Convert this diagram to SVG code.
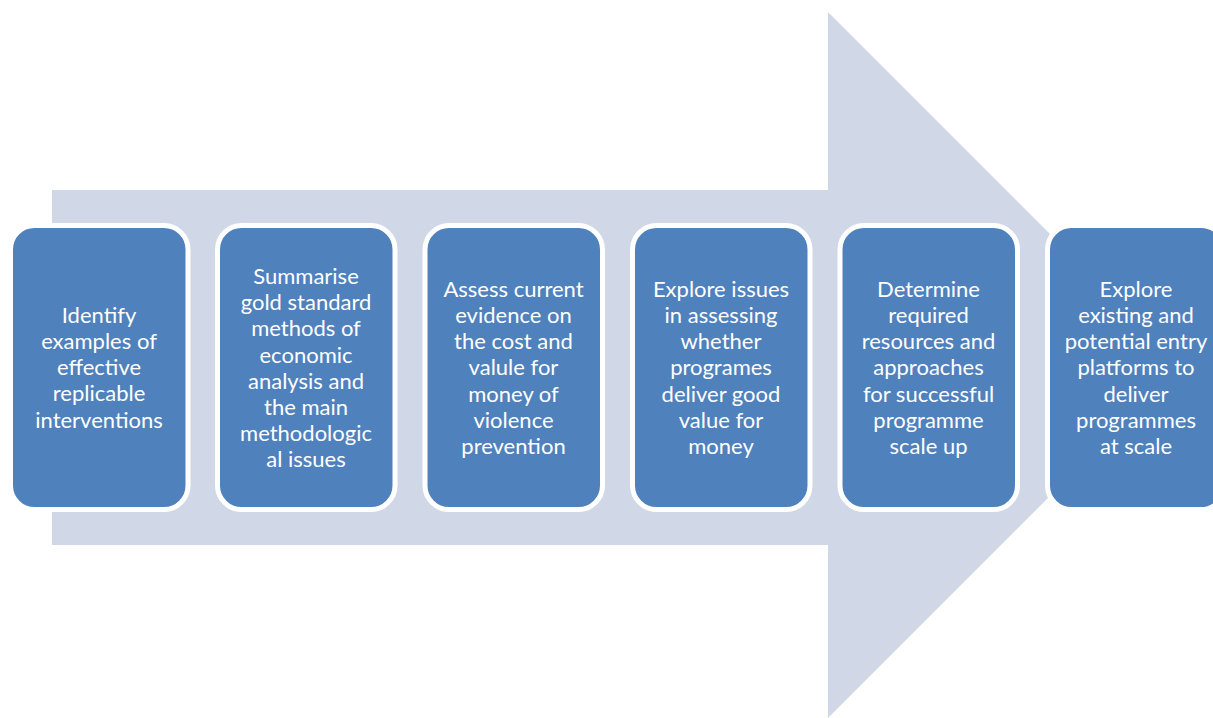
<svg xmlns="http://www.w3.org/2000/svg" width="1213" height="718" viewBox="0 0 1213 718">
<style>
.box{fill:#4F81BD;stroke:#FFFFFF;stroke-width:5}
.t{font-family:Lato,"Open Sans","Liberation Sans",sans-serif;font-size:22px;fill:#FFFFFF;text-anchor:middle}
</style>
<rect width="1213" height="718" fill="#FFFFFF"/>
<g id="arrow">
<polygon points="52,190 828,190 828,12 1181,365 828,718 828,545 52,545" fill="#D0D8E8"/>
</g>
<g id="connectors"></g>
<g id="node1">
<rect class="box" x="10.5" y="225.5" width="177.5" height="284" rx="24"/>
<text class="t" y="322.5"><tspan x="99" dy="0">Identify</tspan><tspan x="99" dy="26.3">examples of</tspan><tspan x="99" dy="26.3">effective</tspan><tspan x="99" dy="26.3">replicable</tspan><tspan x="99" dy="26.3">interventions</tspan></text>
</g>
<g id="node2">
<rect class="box" x="217.5" y="225.5" width="177.5" height="284" rx="24"/>
<text class="t" y="284"><tspan x="306" dy="0">Summarise</tspan><tspan x="306" dy="26.2">gold standard</tspan><tspan x="306" dy="26.2">methods of</tspan><tspan x="306" dy="26.2">economic</tspan><tspan x="306" dy="26.2">analysis and</tspan><tspan x="306" dy="26.2">the main</tspan><tspan x="306" dy="26.2">methodologic</tspan><tspan x="306" dy="26.2">al issues</tspan></text>
</g>
<g id="node3">
<rect class="box" x="425" y="225.5" width="177.5" height="284" rx="24"/>
<text class="t" y="296.5"><tspan x="513.5" dy="0">Assess current</tspan><tspan x="513.5" dy="26.3">evidence on</tspan><tspan x="513.5" dy="26.3">the cost and</tspan><tspan x="513.5" dy="26.3">valule for</tspan><tspan x="513.5" dy="26.3">money of</tspan><tspan x="513.5" dy="26.3">violence</tspan><tspan x="513.5" dy="26.3">prevention</tspan></text>
</g>
<g id="node4">
<rect class="box" x="632.5" y="225.5" width="177.5" height="284" rx="24"/>
<text class="t" y="296.5"><tspan x="721" dy="0">Explore issues</tspan><tspan x="721" dy="26.3">in assessing</tspan><tspan x="721" dy="26.3">whether</tspan><tspan x="721" dy="26.3">programes</tspan><tspan x="721" dy="26.3">deliver good</tspan><tspan x="721" dy="26.3">value for</tspan><tspan x="721" dy="26.3">money</tspan></text>
</g>
<g id="node5">
<rect class="box" x="840" y="225.5" width="177.5" height="284" rx="24"/>
<text class="t" y="296.5"><tspan x="928.5" dy="0">Determine</tspan><tspan x="928.5" dy="26.3">required</tspan><tspan x="928.5" dy="26.3">resources and</tspan><tspan x="928.5" dy="26.3">approaches</tspan><tspan x="928.5" dy="26.3">for successful</tspan><tspan x="928.5" dy="26.3">programme</tspan><tspan x="928.5" dy="26.3">scale up</tspan></text>
</g>
<g id="node6">
<rect class="box" x="1047.5" y="225.5" width="177.5" height="284" rx="24"/>
<text class="t" y="296.5"><tspan x="1136" dy="0">Explore</tspan><tspan x="1136" dy="26.3">existing and</tspan><tspan x="1136" dy="26.3">potential entry</tspan><tspan x="1136" dy="26.3">platforms to</tspan><tspan x="1136" dy="26.3">deliver</tspan><tspan x="1136" dy="26.3">programmes</tspan><tspan x="1136" dy="26.3">at scale</tspan></text>
</g>
</svg>
